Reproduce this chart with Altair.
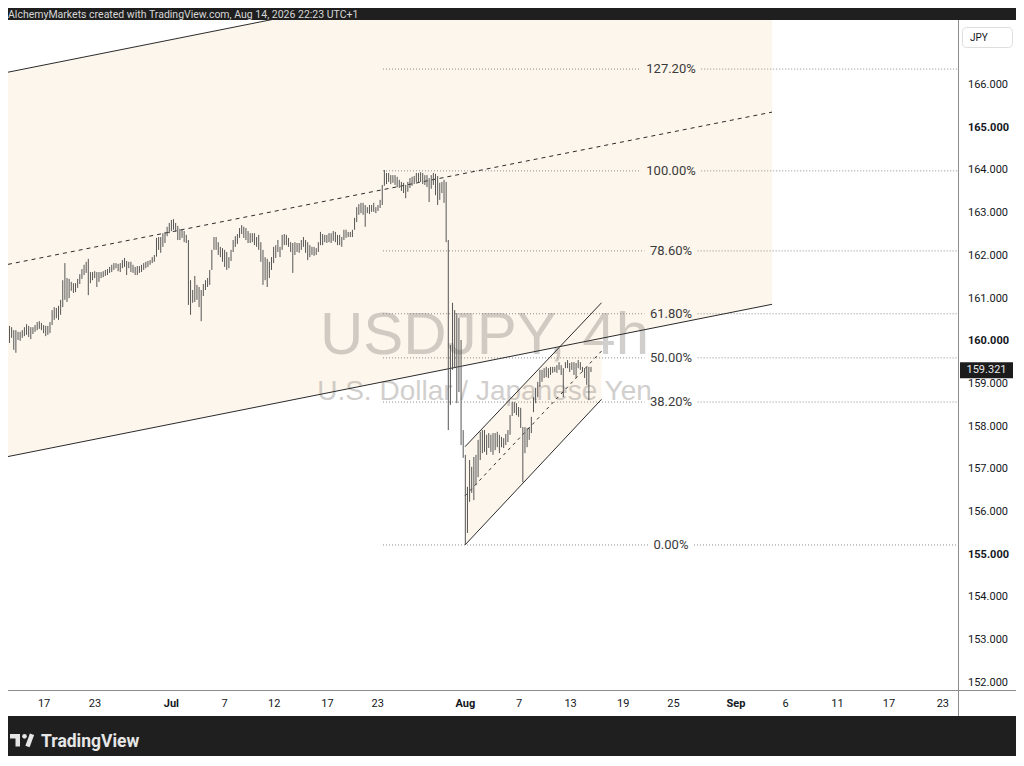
import altair as alt
import pandas as pd

# ---------------- data ----------------
bar_high = [
    160.36, 160.33, 160.26, 160.26, 160.22, 160.22, 160.26, 160.33, 160.40, 160.36,
    160.33, 160.33, 160.38, 160.45, 160.47, 160.43, 160.38, 160.36, 160.36, 160.45,
    160.73, 160.80, 160.78, 160.83, 160.97, 161.43, 161.83, 161.48, 161.46, 161.39,
    161.36, 161.36, 161.46, 161.57, 161.69, 161.79, 161.86, 161.93, 161.62, 161.62,
    161.64, 161.62, 161.62, 161.62, 161.64, 161.67, 161.69, 161.74, 161.79, 161.83,
    161.83, 161.81, 161.83, 161.90, 161.95, 161.88, 161.86, 161.86, 161.79, 161.74,
    161.76, 161.76, 161.79, 161.83, 161.86, 161.88, 161.90, 161.97, 162.02, 162.42,
    162.44, 162.44, 162.53, 162.56, 162.68, 162.77, 162.84, 162.86, 162.77, 162.70,
    162.63, 162.63, 162.58, 162.49, 162.37, 161.43, 161.20, 161.53, 161.32, 161.27,
    161.20, 161.34, 161.43, 161.48, 161.67, 162.14, 162.44, 162.44, 162.32, 162.21,
    162.18, 162.14, 162.09, 161.97, 162.14, 162.37, 162.46, 162.51, 162.65, 162.72,
    162.68, 162.65, 162.58, 162.53, 162.53, 162.53, 162.44, 162.49, 162.32, 162.14,
    161.97, 161.93, 161.86, 161.97, 162.21, 162.25, 162.37, 162.21, 162.49, 162.51,
    162.49, 162.42, 162.32, 162.30, 162.32, 162.30, 162.30, 162.37, 162.44, 162.37,
    162.32, 162.25, 162.21, 162.21, 162.18, 162.32, 162.56, 162.51, 162.49, 162.49,
    162.53, 162.53, 162.58, 162.56, 162.49, 162.49, 162.44, 162.61, 162.61, 162.56,
    162.56, 162.61, 162.89, 163.14, 163.21, 163.24, 163.24, 163.19, 163.14, 163.19,
    163.19, 163.24, 163.14, 163.19, 163.31, 163.66, 164.01, 163.94, 163.94, 163.89,
    163.89, 163.89, 163.85, 163.78, 163.73, 163.71, 163.66, 163.73, 163.82, 163.85,
    163.87, 163.94, 163.94, 163.96, 163.94, 163.89, 163.89, 163.82, 163.89, 163.94,
    163.92, 163.87, 163.71, 163.73, 163.78, 163.73, 162.37, 159.91, 160.90, 160.73,
    160.66, 160.55, 160.03, 157.92, 157.34, 156.59, 157.22, 157.06, 157.29, 157.34,
    157.69, 157.88, 157.92, 157.92, 157.81, 157.85, 157.81, 157.85, 157.85, 157.88,
    157.81, 157.76, 157.73, 157.83, 157.92, 158.27, 158.58, 158.58, 158.55, 158.46,
    158.44, 157.99, 157.99, 157.97, 157.99, 158.23, 158.69, 158.91, 159.05, 159.33,
    159.33, 159.37, 159.40, 159.37, 159.40, 159.40, 159.40, 159.44, 159.51, 159.44,
    159.37, 159.51, 159.56, 159.49, 159.51, 159.51, 159.49, 159.56, 159.51, 159.40,
    159.37, 159.40, 159.40, 159.40,
]
bar_low = [
    159.96, 160.08, 159.80, 159.73, 160.03, 160.01, 160.08, 160.12, 160.15, 160.10,
    160.05, 160.17, 160.22, 160.26, 160.29, 160.26, 160.19, 160.12, 160.15, 160.19,
    160.38, 160.50, 160.54, 160.50, 160.62, 160.80, 160.97, 160.92, 161.01, 161.18,
    161.13, 161.15, 161.25, 161.34, 161.46, 161.55, 161.60, 161.08, 161.36, 161.43,
    161.48, 161.27, 161.39, 161.48, 161.50, 161.53, 161.55, 161.60, 161.62, 161.67,
    161.71, 161.64, 161.62, 161.71, 161.74, 161.55, 161.71, 161.62, 161.60, 161.55,
    161.55, 161.60, 161.62, 161.67, 161.71, 161.74, 161.79, 161.83, 161.86, 161.98,
    162.14, 162.07, 162.21, 162.30, 162.46, 162.53, 162.58, 162.61, 162.56, 162.37,
    162.37, 162.42, 162.32, 162.30, 160.85, 160.62, 160.90, 160.92, 160.97, 160.80,
    160.47, 161.06, 161.20, 161.27, 161.32, 161.67, 162.14, 162.14, 162.02, 161.97,
    161.86, 161.74, 161.67, 161.71, 161.88, 162.09, 162.21, 162.28, 162.42, 162.51,
    162.42, 162.37, 162.30, 162.30, 162.32, 162.25, 162.21, 162.14, 161.86, 161.32,
    161.43, 161.27, 161.48, 161.67, 161.83, 161.95, 162.09, 161.97, 162.14, 162.25,
    162.25, 162.21, 162.09, 161.60, 162.02, 162.09, 162.07, 162.14, 162.21, 162.07,
    161.90, 161.97, 162.02, 162.00, 162.02, 162.09, 162.25, 162.25, 162.32, 162.30,
    162.32, 162.30, 162.35, 162.32, 162.25, 162.25, 162.21, 162.37, 162.42, 162.44,
    162.44, 162.44, 162.61, 162.79, 162.96, 163.00, 162.96, 162.68, 163.00, 162.98,
    163.03, 163.03, 163.00, 163.05, 163.12, 163.19, 163.64, 163.68, 163.73, 163.68,
    163.71, 163.66, 163.61, 163.59, 163.52, 163.47, 163.35, 163.50, 163.59, 163.64,
    163.68, 163.73, 163.71, 163.73, 163.68, 163.66, 163.61, 163.26, 163.57, 163.66,
    163.42, 163.19, 163.31, 163.47, 163.24, 162.32, 157.92, 158.51, 159.33, 159.37,
    158.55, 158.81, 157.57, 157.27, 155.23, 155.51, 156.24, 156.45, 156.28, 156.63,
    156.82, 157.22, 157.38, 157.41, 157.34, 157.50, 157.41, 157.34, 157.45, 157.52,
    157.38, 157.52, 157.50, 157.57, 157.64, 157.81, 158.25, 158.32, 158.27, 158.23,
    157.97, 156.70, 157.38, 157.52, 157.69, 157.85, 158.34, 158.55, 158.69, 158.93,
    159.05, 159.14, 159.16, 159.14, 159.21, 159.26, 159.28, 159.26, 159.33, 159.21,
    158.69, 159.37, 159.37, 159.28, 159.33, 159.21, 159.14, 159.37, 159.33, 159.28,
    159.14, 158.98, 158.62, 159.28,
]

# time axis (positions in 4h-bar units)
date_tick_pos = [16.24, 40.09, 76.01, 101.03, 124.32, 149.30, 172.86, 213.99, 239.30,
                 263.43, 288.12, 311.69, 341.03, 364.32, 388.73, 412.86, 438.17]
date_tick_labels = ["17", "23", "Jul", "7", "12", "17", "23", "Aug", "7",
                    "13", "19", "25", "Sep", "6", "11", "17", "23"]
month_labels = ["Jul", "Aug", "Sep"]

price_ticks = [152, 153, 154, 155, 156, 157, 158, 159, 160, 161, 162, 163, 164, 165, 166]
price_bold = [155, 160, 165]

fib_ratios = [0.0, 0.382, 0.5, 0.618, 0.786, 1.0, 1.272]
fib_labels = ["0.00%", "38.20%", "50.00%", "61.80%", "78.60%", "100.00%", "127.20%"]
fib_low = 155.23
fib_high = 163.99
fib_start_bar = 175.35
fib_label_bar = 310.56

big_ch_bars = [-0.704, 357.98]
big_ch_lower = [157.30, 160.865]
big_ch_upper = [166.30, 169.865]

aug_ch_bars = [213.85, 277.93]
aug_ch_lower = [155.23, 158.64]
aug_ch_upper = [157.53, 160.90]

last_price = 159.321
symbol_title = "USDJPY, 4h"
symbol_desc = "U.S. Dollar / Japanese Yen"
header_text = "AlchemyMarkets created with TradingView.com, Aug 14, 2026 22:23 UTC+1"
currency = "JPY"
brand = "TradingView"

# ---------------- layout ----------------
W, H = 950, 670
XMIN, XMAX = -0.704, 445.3
YMIN, YMAX = 151.834, 167.522
PX_PER_BAR = W / (XMAX - XMIN)
PX_PER_PRICE = H / (YMAX - YMIN)
BEIGE = "#fdf6ec"
DARK = "#1f1f1f"
LINE = "#2b2b2b"
TXT = "#131722"
FONT = "Roboto"

xs = alt.Scale(domain=[XMIN, XMAX], nice=False, zero=False)
ys = alt.Scale(domain=[YMIN, YMAX], nice=False, zero=False)

one = pd.DataFrame({"k": [0]})

bars = pd.DataFrame({"i": list(range(len(bar_high))), "high": bar_high, "low": bar_low})

big = pd.DataFrame({"i": big_ch_bars, "lower": big_ch_lower, "upper": big_ch_upper})
big["mid"] = (big["lower"] + big["upper"]) / 2
aug = pd.DataFrame({"i": aug_ch_bars, "lower": aug_ch_lower, "upper": aug_ch_upper})
aug["mid"] = (aug["lower"] + aug["upper"]) / 2

fib_prices = [fib_low + r * (fib_high - fib_low) for r in fib_ratios]
fib_lab_df = pd.DataFrame({"price": fib_prices, "label": fib_labels, "i": fib_label_bar})
seg_rows = []
for p, lab in zip(fib_prices, fib_labels):
    half = (len(lab) * 3.6 + 5) / PX_PER_BAR
    seg_rows.append({"price": p, "a": fib_start_bar, "b": fib_label_bar - half})
    seg_rows.append({"price": p, "a": fib_label_bar + half, "b": XMAX})
fib_seg = pd.DataFrame(seg_rows)


def lines_df(df, col):
    return pd.DataFrame({"x1": [df["i"][0]], "x2": [df["i"][1]],
                         "y1": [df[col][0]], "y2": [df[col][1]]})


solid_lines = pd.concat([lines_df(big, "lower"), lines_df(big, "upper"),
                         lines_df(aug, "lower"), lines_df(aug, "upper")])
big_mid = lines_df(big, "mid")
aug_mid = lines_df(aug, "mid")

dates = pd.DataFrame({"i": date_tick_pos, "label": date_tick_labels})
dates["bold"] = dates["label"].isin(month_labels)
prices = pd.DataFrame({"p": price_ticks, "label": [f"{v:.3f}" for v in price_ticks]})
prices["bold"] = prices["p"].isin(price_bold)

half_tag = 8 / PX_PER_PRICE
tag = pd.DataFrame({"p": [last_price], "lo": [last_price - half_tag],
                    "hi": [last_price + half_tag], "label": [f"{last_price:.3f}"]})

X = lambda f: alt.X(f, scale=xs, axis=None)
Y = lambda f: alt.Y(f, scale=ys, axis=None)

# ---------------- layers ----------------
panel = alt.Chart(one).mark_rect(color="white").encode(
    x=alt.value(0), x2=alt.value(1008), y=alt.value(0), y2=alt.value(696))

big_fill = alt.Chart(big).mark_area(color=BEIGE, clip=True).encode(
    x=X("i:Q"), y=Y("lower:Q"), y2="upper:Q")
aug_fill = alt.Chart(aug).mark_area(color=BEIGE, clip=True).encode(
    x=X("i:Q"), y=Y("lower:Q"), y2="upper:Q")

wm1 = alt.Chart(one).mark_text(text=symbol_title, font="Liberation Sans", fontSize=60,
                               color="#8f8a85", opacity=0.4, align="center",
                               baseline="alphabetic").encode(
    x=alt.value(476.5), y=alt.value(333.5))
wm2 = alt.Chart(one).mark_text(text=symbol_desc, font="Liberation Sans", fontSize=28,
                               color="#8f8a85", opacity=0.4, align="center",
                               baseline="alphabetic").encode(
    x=alt.value(476.5), y=alt.value(380))

fib_lines = alt.Chart(fib_seg).mark_rule(color="#8c8c8c", strokeWidth=1,
                                         strokeDash=[1, 2]).encode(
    x=X("a:Q"), x2="b:Q", y=Y("price:Q"))
fib_text = alt.Chart(fib_lab_df).mark_text(font=FONT, fontSize=13, color="#3a3a3a",
                                           align="center", baseline="middle").encode(
    x=X("i:Q"), y=Y("price:Q"), text="label:N")

ch_solid = alt.Chart(solid_lines).mark_rule(color=LINE, strokeWidth=1, clip=True).encode(
    x=X("x1:Q"), x2="x2:Q", y=Y("y1:Q"), y2="y2:Q")
ch_mid_big = alt.Chart(big_mid).mark_rule(color=LINE, strokeWidth=1, clip=True,
                                          strokeDash=[4, 4]).encode(
    x=X("x1:Q"), x2="x2:Q", y=Y("y1:Q"), y2="y2:Q")
ch_mid_aug = alt.Chart(aug_mid).mark_rule(color=LINE, strokeWidth=1, clip=True,
                                          strokeDash=[3, 4]).encode(
    x=X("x1:Q"), x2="x2:Q", y=Y("y1:Q"), y2="y2:Q")

ohlc = alt.Chart(bars).mark_rule(color="#555555", strokeWidth=1).encode(
    x=X("i:Q"), y=Y("low:Q"), y2="high:Q")

# frame separators
sep_v = alt.Chart(one).mark_rule(color="#8c8c8c", strokeWidth=1).encode(
    x=alt.value(950.5), y=alt.value(0), y2=alt.value(696))
sep_h = alt.Chart(one).mark_rule(color="#8c8c8c", strokeWidth=1).encode(
    x=alt.value(0), x2=alt.value(1008), y=alt.value(670.5))

# axis labels
date_norm = alt.Chart(dates).transform_filter("!datum.bold").mark_text(
    font=FONT, fontSize=11, color=TXT, align="center", baseline="middle").encode(
    x=X("i:Q"), y=alt.value(684), text="label:N")
date_bold = alt.Chart(dates).transform_filter("datum.bold").mark_text(
    font=FONT, fontSize=11, fontWeight="bold", color=TXT, align="center",
    baseline="middle").encode(x=X("i:Q"), y=alt.value(684), text="label:N")
price_norm = alt.Chart(prices).transform_filter("!datum.bold").mark_text(
    font=FONT, fontSize=11, color=TXT, align="left", baseline="middle").encode(
    x=alt.value(960), y=Y("p:Q"), text="label:N")
price_bold_l = alt.Chart(prices).transform_filter("datum.bold").mark_text(
    font=FONT, fontSize=11, fontWeight="bold", color=TXT, align="left",
    baseline="middle").encode(x=alt.value(960), y=Y("p:Q"), text="label:N")

tag_box = alt.Chart(tag).mark_rect(color="#1c1c1c").encode(
    x=alt.value(952), x2=alt.value(1005), y=Y("lo:Q"), y2="hi:Q")
tag_txt = alt.Chart(tag).mark_text(font=FONT, fontSize=11, color="#e8e8e8",
                                   align="center", baseline="middle").encode(
    x=alt.value(978.5), y=Y("p:Q"), text="label:N")

cur_box = alt.Chart(one).mark_rect(fill="white", stroke="#dedede", strokeWidth=1,
                                   cornerRadius=4).encode(
    x=alt.value(954.5), x2=alt.value(1004.5), y=alt.value(7.5), y2=alt.value(27.5))
cur_txt = alt.Chart(one).mark_text(text=currency, font=FONT, fontSize=10, color=TXT,
                                   align="left", baseline="middle").encode(
    x=alt.value(962), y=alt.value(17.5))

header = alt.Chart(one).mark_text(text=header_text, font=FONT, fontSize=10.5,
                                  color="#d6d6d6", align="left",
                                  baseline="alphabetic").encode(
    x=alt.value(0), y=alt.value(-2.5))

logo_bar = alt.Chart(one).mark_rect(color="#e6e6e6").encode(
    x=alt.value(2), x2=alt.value(12), y=alt.value(714), y2=alt.value(718.5))
logo_stem = alt.Chart(one).mark_rect(color="#e6e6e6").encode(
    x=alt.value(7.5), x2=alt.value(12), y=alt.value(714), y2=alt.value(726.5))
logo_dot = alt.Chart(one).mark_circle(color="#e6e6e6", opacity=1, size=22).encode(
    x=alt.value(16.5), y=alt.value(716.3))
logo_slash = alt.Chart(one).mark_rule(color="#e6e6e6", strokeWidth=4.5).encode(
    x=alt.value(24), x2=alt.value(19.5), y=alt.value(714.3), y2=alt.value(726.5))
logo_txt = alt.Chart(one).mark_text(text=brand, font=FONT, fontSize=17.5,
                                    fontWeight="bold", color="#e6e6e6", align="left",
                                    baseline="alphabetic").encode(
    x=alt.value(33), y=alt.value(726.5))

chart = alt.layer(
    panel, big_fill, aug_fill, wm1, wm2, fib_lines, fib_text,
    ch_solid, ch_mid_big, ch_mid_aug, ohlc,
    sep_v, sep_h, date_norm, date_bold, price_norm, price_bold_l,
    tag_box, tag_txt, cur_box, cur_txt, header,
    logo_bar, logo_stem, logo_dot, logo_slash, logo_txt,
).properties(
    width=W, height=H, background=DARK,
    autosize=alt.AutoSizeParams(type="none"),
    padding={"left": 0, "top": 12, "right": 58, "bottom": 66},
).configure_view(stroke=None, fill=None)

chart.save("out.html", embed_options={"renderer": "svg", "actions": False})
